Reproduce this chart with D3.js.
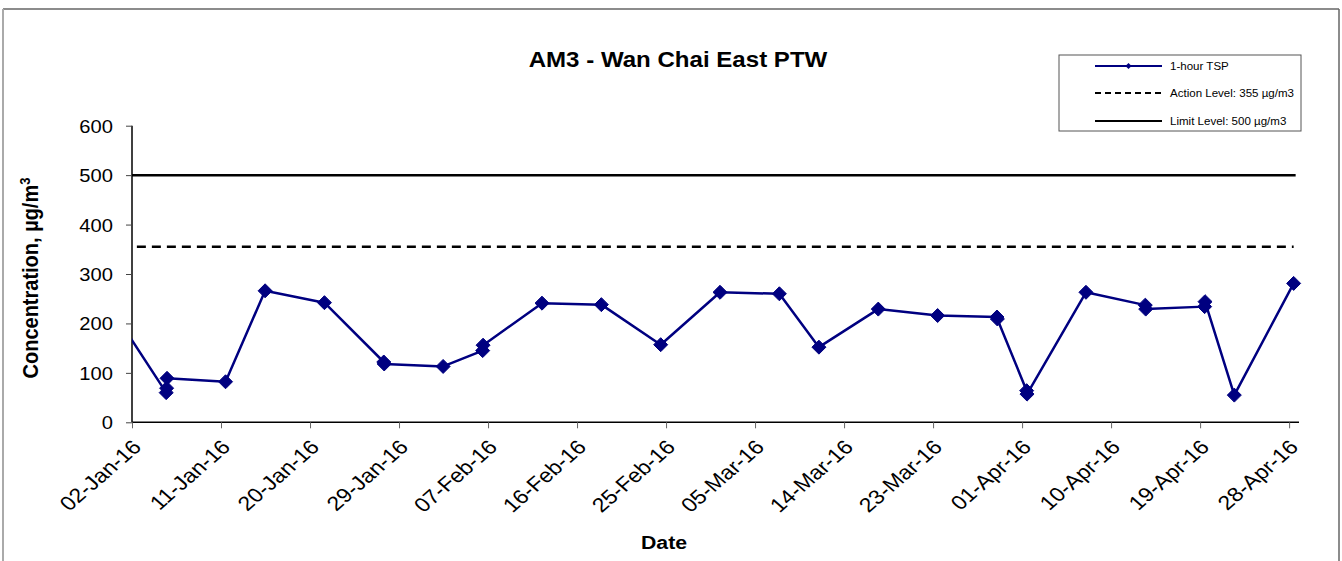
<!DOCTYPE html>
<html>
<head>
<meta charset="utf-8">
<script src="https://cdn.jsdelivr.net/npm/d3@7"></script>
<style>
	body { margin: 0; background: #fff; }
	text { font-family: Arial, 'Liberation Sans', sans-serif; fill: #000; }
</style>
</head>
<body>
<svg id="chart" width="1342" height="561"></svg>
<script>
// 1-hour TSP readings (first one sits before the axis start and gets clipped)
const sampleTimes = [
	'2015-12-30 11:00',
	'2016-01-05 11:00', '2016-01-05 12:00', '2016-01-05 13:00',
	'2016-01-11 11:00',
	'2016-01-15 11:00',
	'2016-01-21 11:00',
	'2016-01-27 11:00', '2016-01-27 12:00',
	'2016-02-02 11:00',
	'2016-02-06 11:00', '2016-02-06 12:00',
	'2016-02-12 11:00',
	'2016-02-18 11:00',
	'2016-02-24 11:00',
	'2016-03-01 11:00',
	'2016-03-07 11:00',
	'2016-03-11 11:00',
	'2016-03-17 11:00',
	'2016-03-23 11:00',
	'2016-03-29 11:00', '2016-03-29 12:00',
	'2016-04-01 11:00', '2016-04-01 12:00',
	'2016-04-07 11:00',
	'2016-04-13 11:00', '2016-04-13 12:00',
	'2016-04-19 11:00', '2016-04-19 12:00',
	'2016-04-22 11:00',
	'2016-04-28 11:00'
];
const tspValues = [
	244,
	60, 69, 89,
	82,
	266,
	242,
	122, 118,
	113,
	145, 156,
	241,
	238,
	157,
	263,
	260,
	152,
	229,
	216,
	213, 209,
	64, 57,
	263,
	237, 229,
	234, 244,
	55,
	281
];

const actionLevel = 355;
const limitLevel = 500;

const xTickLabels = ['02-Jan-16', '11-Jan-16', '20-Jan-16', '29-Jan-16', '07-Feb-16', '16-Feb-16', '25-Feb-16',
	'05-Mar-16', '14-Mar-16', '23-Mar-16', '01-Apr-16', '10-Apr-16', '19-Apr-16', '28-Apr-16'];
const yTicks = [0, 100, 200, 300, 400, 500, 600];

const legendLabels = ['1-hour TSP', 'Action Level: 355 \u00b5g/m3', 'Limit Level: 500 \u00b5g/m3'];

const parseTime = d3.timeParse('%Y-%m-%d %H:%M');
const parseTick = d3.timeParse('%d-%b-%y');

const readings = sampleTimes.map((t, i) => ({ date: parseTime(t), value: tspValues[i] }));

// the picture is a bit wider than the original, so text gets stretched sideways
const sx = 1.12;

const svg = d3.select('#chart');

const plot = { left: 132, right: 1299, top: 125.7, bottom: 422.3 };

const x = d3.scaleTime()
	.domain([parseTick('02-Jan-16'), parseTick('29-Apr-16')])
	.range([plot.left, plot.right]);

const y = d3.scaleLinear()
	.domain([0, 600])
	.range([plot.bottom, plot.top]);

// outer frame
svg.append('line').attr('x1', 3).attr('y1', 9).attr('x2', 1339).attr('y2', 9)
	.attr('stroke', '#666').attr('stroke-width', 1.5);
svg.append('line').attr('x1', 3).attr('y1', 9).attr('x2', 3).attr('y2', 561)
	.attr('stroke', '#aaa').attr('stroke-width', 2);
svg.append('line').attr('x1', 1339).attr('y1', 9).attr('x2', 1339).attr('y2', 561)
	.attr('stroke', '#666').attr('stroke-width', 1.5);

svg.append('defs').append('clipPath').attr('id', 'plot-clip')
	.append('rect')
	.attr('x', plot.left).attr('y', plot.top - 10)
	.attr('width', plot.right - plot.left + 10).attr('height', plot.bottom - plot.top + 20);

// title
svg.append('text')
	.attr('transform', `translate(678,67) scale(${sx},1)`)
	.attr('text-anchor', 'middle')
	.style('font-size', '21.5px')
	.style('font-weight', 'bold')
	.text('AM3 - Wan Chai East PTW');

// y axis
const yAxis = d3.axisLeft(y).tickValues(yTicks).tickSize(6).tickPadding(0).tickFormat(d3.format('d'));
const gy = svg.append('g').attr('transform', `translate(${plot.left},0)`).call(yAxis);
gy.select('.domain').attr('stroke', '#000').attr('stroke-width', 1.5).attr('d', `M0,${plot.top}V${plot.bottom}`);
gy.selectAll('.tick line').attr('stroke', '#444');
gy.selectAll('.tick text')
	.attr('x', null).attr('dy', null)
	.attr('text-anchor', 'end')
	.attr('transform', `translate(-19,6.5) scale(${sx},1)`)
	.style('font-size', '18px')
	.style('font-family', null);

// x axis
const xAxis = d3.axisBottom(x).tickValues(xTickLabels.map(parseTick)).tickSize(6).tickFormat(d3.timeFormat('%d-%b-%y'));
const gx = svg.append('g').attr('transform', `translate(0,${plot.bottom})`).call(xAxis);
gx.select('.domain').attr('stroke', '#000').attr('stroke-width', 1.5).attr('d', `M${plot.left},0H${plot.right}`);
gx.selectAll('.tick line').attr('stroke', '#666');
gx.selectAll('.tick text')
	.attr('y', null).attr('dy', null)
	.attr('text-anchor', 'end')
	.attr('transform', `translate(10,26) scale(1.15,1) rotate(-45)`)
	.style('font-size', '20px')
	.style('font-family', null);

// axis titles
svg.append('text')
	.attr('transform', `translate(38,278) scale(${sx},1) rotate(-90)`)
	.attr('text-anchor', 'middle')
	.style('font-size', '20px')
	.style('font-weight', 'bold')
	.html('Concentration, \u00b5g/m<tspan dy="-7" style="font-size:13px">3</tspan>');

svg.append('text')
	.attr('transform', `translate(664,549) scale(${sx},1)`)
	.attr('text-anchor', 'middle')
	.style('font-size', '19px')
	.style('font-weight', 'bold')
	.text('Date');

// level lines span the sampled period
const first = readings[0].date, last = readings[readings.length - 1].date;
const marks = svg.append('g').attr('clip-path', 'url(#plot-clip)');

marks.append('line')
	.attr('x1', x(first)).attr('x2', x(last) + 2)
	.attr('y1', y(limitLevel)).attr('y2', y(limitLevel))
	.attr('stroke', '#000').attr('stroke-width', 2.5);

marks.append('line')
	.attr('x1', x(first)).attr('x2', x(last))
	.attr('y1', y(actionLevel)).attr('y2', y(actionLevel))
	.attr('stroke', '#000').attr('stroke-width', 2.5)
	.attr('stroke-dasharray', '9,6');

const line = d3.line().x(d => x(d.date)).y(d => y(d.value));

marks.append('path')
	.datum(readings)
	.attr('fill', 'none')
	.attr('stroke', '#000080')
	.attr('stroke-width', 2.5)
	.attr('stroke-linejoin', 'round')
	.attr('d', line);

const diamond = d3.symbol().type(d3.symbolDiamond2).size(125);

marks.selectAll('.marker')
	.data(readings.filter(d => d.date >= x.domain()[0]))
	.enter().append('path')
	.attr('class', 'marker')
	.attr('transform', d => `translate(${x(d.date)},${y(d.value)})`)
	.attr('d', diamond)
	.attr('fill', '#000080')
	.attr('stroke', '#000080')
	.attr('stroke-width', 1);

// legend
const legend = svg.append('g').attr('transform', 'translate(1059,55)');
legend.append('rect')
	.attr('width', 242).attr('height', 76)
	.attr('fill', '#fff').attr('stroke', '#555').attr('stroke-width', 1);

const rows = legend.selectAll('.row')
	.data(legendLabels)
	.enter().append('g')
	.attr('class', 'row')
	.attr('transform', (d, i) => `translate(0,${[11, 38, 66][i]})`);

rows.append('line')
	.attr('x1', 36).attr('x2', 103)
	.attr('stroke', (d, i) => i === 0 ? '#000080' : '#000')
	.attr('stroke-width', 2)
	.attr('stroke-dasharray', (d, i) => i === 1 ? '6,4' : null);

legend.append('path')
	.attr('transform', 'translate(69.5,11)')
	.attr('d', d3.symbol().type(d3.symbolDiamond2).size(24))
	.attr('fill', '#000080');

rows.append('text')
	.attr('transform', 'translate(111,4) scale(1.05,1)')
	.style('font-size', '11px')
	.text(d => d);
</script>
</body>
</html>
